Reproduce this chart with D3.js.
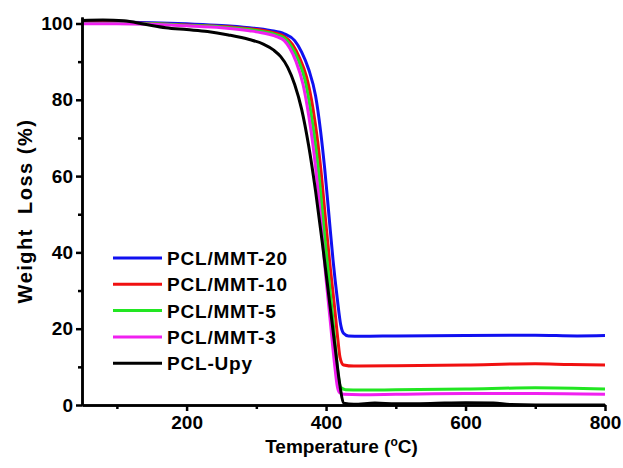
<!DOCTYPE html>
<html>
<head>
<meta charset="utf-8">
<script src="https://cdn.jsdelivr.net/npm/d3@7"></script>
<style>
  body { margin: 0; background: #fff; }
  text { font-family: 'Liberation Sans', Arial, sans-serif; font-weight: bold; }
</style>
</head>
<body>
<div id="chart"></div>
<script>
const WIDTH  = 623;
const HEIGHT = 468;
const MARGIN = { top: 17, right: 18, bottom: 63, left: 82 };

const FONT   = 19;
const STROKE = 3;

// [temperature (°C), weight (%)]
const mmt20 = [
  [50, 100.5], [100, 100.4], [150, 100.2], [200, 99.9], [250, 99.5], [290, 98.9],
  [320, 98.2], [340, 97.3], [355, 95.5], [365, 92.5], [375, 88], [385, 81],
  [392, 72], [398, 62], [404, 50], [410, 38], [416, 28], [421, 21], [425, 18.8],
  [432, 18.1], [450, 18.0], [500, 18.1], [600, 18.2], [700, 18.3], [760, 18.1], [800, 18.2]
];
const mmt10 = [
  [50, 100.2], [100, 100.2], [150, 100], [200, 99.6], [250, 99.2], [290, 98.6],
  [320, 97.8], [340, 96.6], [352, 94.5], [362, 91], [372, 86], [381, 78],
  [388, 69], [394, 59], [400, 47], [406, 36], [412, 26], [417, 17], [420, 12.5],
  [425, 10.5], [440, 10.2], [500, 10.3], [600, 10.5], [700, 10.8], [750, 10.6], [800, 10.5]
];
const mmt5 = [
  [50, 100], [100, 100], [150, 99.9], [200, 99.5], [250, 99.1], [290, 98.4],
  [320, 97.5], [340, 96.2], [350, 94], [360, 90.5], [370, 85], [378, 77],
  [385, 68], [391, 58], [397, 46], [403, 35], [409, 24], [414, 14], [418, 7],
  [421, 4.6], [428, 4.0], [450, 3.9], [500, 4.0], [600, 4.2], [700, 4.5], [800, 4.2]
];
const mmt3 = [
  [50, 99.9], [100, 99.9], [150, 99.8], [200, 99.4], [250, 98.9], [290, 98.1],
  [315, 97.3], [330, 96.5], [340, 95.5], [348, 93.5], [357, 90], [367, 84],
  [375, 76], [382, 67], [388, 57], [394, 45], [400, 33], [406, 22], [412, 11],
  [416, 5], [419, 3.3], [425, 2.8], [450, 2.7], [500, 2.8], [600, 3.0], [700, 3.0], [800, 2.8]
];
const upy = [
  [50, 100.8], [80, 100.9], [110, 100.7], [140, 99.8], [170, 98.9], [200, 98.4],
  [230, 97.9], [260, 97.0], [290, 95.8], [310, 94.6], [325, 93.0], [335, 91.3],
  [345, 88.5], [355, 84], [365, 77.5], [375, 68], [385, 56], [395, 42], [405, 27],
  [413, 15], [420, 5], [425, 0.5], [440, 0.2], [470, 0.5], [500, 0.3], [550, 0.4],
  [600, 0.6], [640, 0.5], [665, 0.1], [700, 0], [800, 0]
];

const NAMES  = ['PCL/MMT-20', 'PCL/MMT-10', 'PCL/MMT-5', 'PCL/MMT-3', 'PCL-Upy'];
const SERIES = [mmt20, mmt10, mmt5, mmt3, upy];
const COLORS = ['#1010f0', '#f01010', '#22e622', '#f020f0', '#000'];

const X_TICKS       = [200, 400, 600, 800];
const X_MINOR_TICKS = [100, 300, 500, 700];
const Y_TICKS       = [0, 20, 40, 60, 80, 100];
const Y_MINOR_TICKS = [10, 30, 50, 70, 90];



var xScale = d3.scaleLinear()
  .domain([50, 800])
  .range([MARGIN.left, WIDTH - MARGIN.right]);
var yScale = d3.scaleLinear()
  .domain([0, 101.7])
  .range([HEIGHT - MARGIN.bottom, MARGIN.top]);

var svg = d3.select('#chart').append('svg')
  .attr('width', WIDTH)
  .attr('height', HEIGHT)
  .style('background-color', '#fff');

function styleAxis(g) {
  g.select('.domain')
    .style('stroke', '#000')
    .style('stroke-width', 2.5);
  g.selectAll('.tick line')
    .style('stroke', '#000')
    .style('stroke-width', 2.5);
  g.selectAll('.tick text')
    .style('font-size', FONT + 'px')
    .style('font-weight', 'bold')
    .style('fill', '#000');
}

// Curves
var line = d3.line()
  .x(d => xScale(d[0]))
  .y(d => yScale(d[1]))
  .curve(d3.curveMonotoneX);

svg.selectAll('.curve')
    .data(SERIES)
  .enter().append('path')
    .attr('class', 'curve')
    .attr('d', line)
    .style('fill', 'none')
    .style('stroke', (d, i) => COLORS[i])
    .style('stroke-width', STROKE)
    .style('stroke-linejoin', 'round');

// Minor ticks
svg.append('g')
  .attr('transform', `translate(0,${yScale(0)})`)
  .call(d3.axisBottom(xScale).tickValues(X_MINOR_TICKS).tickFormat('').tickSize(4).tickSizeOuter(0))
  .call(styleAxis);
svg.append('g')
  .attr('transform', `translate(${xScale(50)},0)`)
  .call(d3.axisLeft(yScale).tickValues(Y_MINOR_TICKS).tickFormat('').tickSize(4).tickSizeOuter(0))
  .call(styleAxis);

// Major axes
svg.append('g')
  .attr('transform', `translate(0,${yScale(0)})`)
  .call(d3.axisBottom(xScale).tickValues(X_TICKS).tickSize(6).tickPadding(5).tickSizeOuter(0))
  .call(styleAxis);
svg.append('g')
  .attr('transform', `translate(${xScale(50)},0)`)
  .call(d3.axisLeft(yScale).tickValues(Y_TICKS).tickSize(6).tickPadding(3).tickSizeOuter(0))
  .call(styleAxis);

// Axis titles
var xTitle = svg.append('text')
  .attr('x', (xScale(50) + xScale(800)) / 2 - 2)
  .attr('y', 453)
  .attr('text-anchor', 'middle')
  .style('font-size', FONT + 'px');
xTitle.append('tspan').text('Temperature (');
xTitle.append('tspan').text('o')
  .style('font-size', '12px')
  .attr('dy', -7);
xTitle.append('tspan').text('C)')
  .attr('dy', 7);

svg.append('text')
  .attr('transform', `translate(32,${(yScale(0) + yScale(101.7)) / 2}) rotate(-90)`)
  .attr('text-anchor', 'middle')
  .style('font-size', '20px')
  .style('letter-spacing', '1.5px')
  .style('white-space', 'pre')
  .attr('xml:space', 'preserve')
  .text('Weight  Loss (%)');

// Legend
var legend = svg.selectAll('.legend')
    .data(NAMES)
  .enter().append('g')
    .attr('class', 'legend')
    .attr('transform', (d, i) => `translate(113,${258 + i * 26.3})`);

legend.append('line')
  .attr('x1', 0)
  .attr('x2', 49)
  .attr('y1', 0)
  .attr('y2', 0)
  .style('stroke', (d, i) => COLORS[i])
  .style('stroke-width', STROKE);

legend.append('text')
  .attr('x', 54)
  .attr('y', 7)
  .style('font-size', FONT + 'px')
  .style('letter-spacing', '0.8px')
  .text(d => d);
</script>
</body>
</html>
